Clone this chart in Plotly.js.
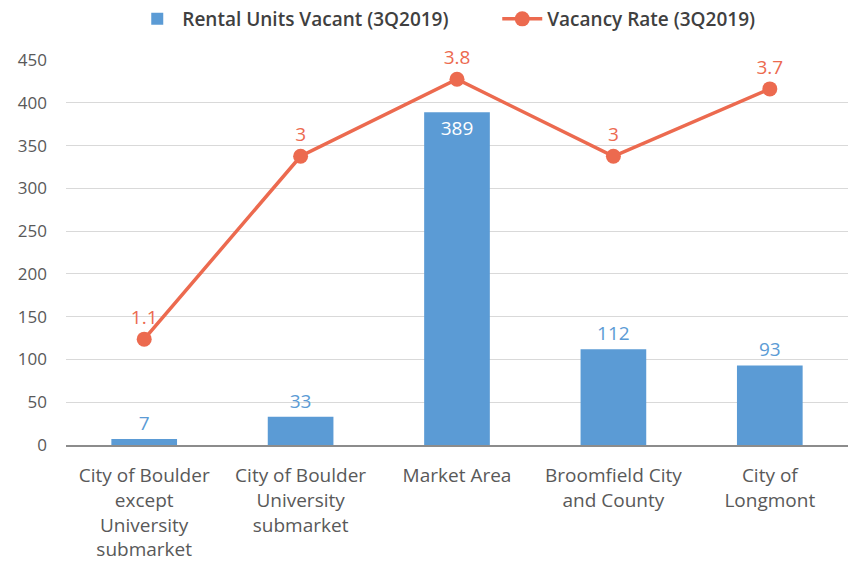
<!DOCTYPE html>
<html><head><meta charset="utf-8">
<script src="https://cdn.plot.ly/plotly-3.0.1.min.js"></script>
<style>html,body{margin:0;padding:0;background:#fff}#c{width:850px;height:571px}</style>
</head><body><div id="c"></div>
<script>
var categories = ["City of Boulder<br>except<br>University<br>submarket","City of Boulder<br>University<br>submarket","Market Area","Broomfield City<br>and County","City of<br>Longmont"];
var unitsVacant = [7, 33, 389, 112, 93];
var vacancyRate = [1.1, 3, 3.8, 3, 3.7];
var yTicks = [0,50,100,150,200,250,300,350,400,450];

var blue = "#5B9BD5", orange = "#EC6A4F";
var bars = {
  type: "bar", name: "Rental Units Vacant (3Q2019)", x: categories, y: unitsVacant,
  marker: {color: blue},
  text: unitsVacant.map(String),
  textposition: unitsVacant.map(function(v){return v > 300 ? "inside" : "outside";}),
  insidetextanchor: "end",
  textfont: {family: "Open Sans", size: 19, color: unitsVacant.map(function(v){return v > 300 ? "#ffffff" : blue;})},
  cliponaxis: false, hoverinfo: "none"
};
var line = {
  type: "scatter", mode: "lines+markers+text", name: "Vacancy Rate (3Q2019)",
  x: categories, y: vacancyRate, yaxis: "y2",
  line: {color: orange, width: 3.5}, marker: {color: orange, size: 15},
  text: vacancyRate.map(String), textposition: "top center",
  textfont: {family: "Open Sans", size: 19, color: orange},
  cliponaxis: false, hoverinfo: "none"
};
var layout = {
  width: 850, height: 571,
  margin: {l: 66, r: 2, t: 60, b: 126, autoexpand: false},
  paper_bgcolor: "#fff", plot_bgcolor: "#fff",
  font: {family: "Open Sans", color: "#595959", size: 17},
  bargap: 0.58,
  showlegend: true,
  legend: {orientation: "h", x: 0.585, xanchor: "center", xref: "container", yref: "container", y: 1.0, yanchor: "top",
    font: {family: "Open Sans", size: 19, color: "#404040", weight: 600}, traceorder: "normal",
    itemwidth: 40, entrywidth: 310},
  xaxis: {type: "category", showgrid: false, showline: true, linecolor: "#8c8c8c", linewidth: 1.5,
    ticks: "", ticklabelstandoff: 13, tickfont: {size: 19, color: "#595959"}, fixedrange: true},
  yaxis: {range: [0, 450], tickvals: yTicks, showgrid: true, gridcolor: "#d9d9d9", gridwidth: 1,
    zeroline: false, showline: false, ticks: "", ticklabelstandoff: 18,
    tickfont: {size: 17, color: "#595959"}, fixedrange: true},
  yaxis2: {overlaying: "y", side: "right", range: [0, 4], visible: false, showgrid: false}
};
Plotly.newPlot("c", [bars, line], layout, {displayModeBar: false, staticPlot: true});
</script></body></html>
